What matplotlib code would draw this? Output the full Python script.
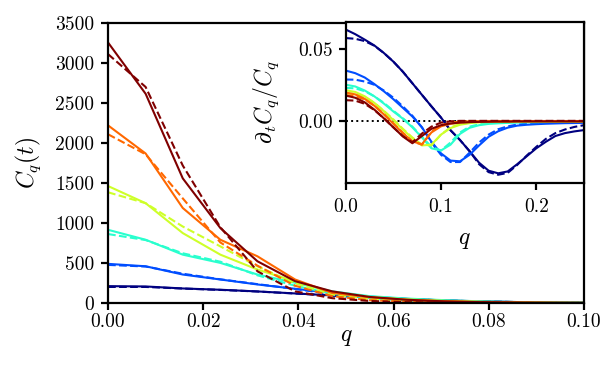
import matplotlib
matplotlib.use("Agg")
import matplotlib.pyplot as plt

plt.rcParams['font.family'] = 'serif'
plt.rcParams['font.serif'] = ['cmr10', 'DejaVu Serif']
plt.rcParams['mathtext.fontset'] = 'cm'
plt.rcParams['axes.formatter.use_mathtext'] = True
plt.rcParams['axes.unicode_minus'] = False

# ---- main panel data ----
q_main = [0.0, 0.0079, 0.0157, 0.0236, 0.0314, 0.0393, 0.0471, 0.0550,
          0.0628, 0.0707, 0.0785, 0.0864, 0.0942, 0.1021]

main_solid_navy = [215, 211, 186, 170, 149, 124, 99, 74, 56, 37, 25, 16, 12, 10]
main_solid_blue = [493, 463, 360, 298, 236, 182, 130, 85, 55, 35, 22, 15, 10, 8]
main_solid_cyan = [918, 794, 608, 505, 360, 257, 150, 90, 60, 40, 25, 16, 10, 8]
main_solid_yellow = [1464, 1250, 877, 608, 422, 273, 140, 80, 50, 32, 20, 13, 9, 7]
main_solid_orange = [2221, 1870, 1190, 794, 587, 298, 130, 75, 45, 28, 17, 11, 8, 6]
main_solid_darkred = [3255, 2615, 1560, 940, 525, 277, 150, 80, 45, 25, 15, 10, 7, 5]

main_dash_navy = [205, 205, 185, 168, 148, 123, 98, 73, 54, 36, 24, 16, 12, 10]
main_dash_blue = [480, 460, 370, 300, 240, 180, 115, 70, 40, 25, 16, 11, 8, 6]
main_dash_cyan = [865, 790, 625, 520, 350, 220, 120, 65, 35, 20, 13, 9, 6, 5]
main_dash_yellow = [1386, 1250, 959, 711, 463, 250, 110, 55, 30, 18, 12, 8, 6, 4]
main_dash_orange = [2110, 1860, 1310, 760, 470, 220, 90, 40, 20, 12, 8, 6, 4, 3]
main_dash_darkred = [3110, 2700, 1720, 950, 400, 150, 65, 30, 15, 10, 7, 5, 4, 3]

# ---- inset data ----
q_inset = [0.00, 0.01, 0.02, 0.03, 0.04, 0.05, 0.06, 0.07, 0.08, 0.09, 0.10,
           0.11, 0.12, 0.13, 0.14, 0.15, 0.16, 0.17, 0.18, 0.19, 0.20,
           0.21, 0.22, 0.23, 0.24, 0.25]

ins_solid_navy = [0.0632, 0.0600, 0.0562, 0.0522, 0.0470, 0.0410, 0.0340, 0.0260, 0.0180, 0.0100, 0.0023,
                  -0.0065, -0.0133, -0.0210, -0.0290, -0.0345, -0.0363, -0.0350, -0.0300, -0.0245, -0.0190,
                  -0.0145, -0.0105, -0.0085, -0.0073, -0.0064]
ins_dash_navy = [0.0573, 0.0568, 0.0552, 0.0520, 0.0470, 0.0410, 0.0340, 0.0260, 0.0180, 0.0100, 0.0023,
                 -0.0065, -0.0133, -0.0210, -0.0300, -0.0355, -0.0373, -0.0360, -0.0305, -0.0240, -0.0180,
                 -0.0125, -0.0085, -0.0060, -0.0042, -0.0030]
ins_solid_blue = [0.0348, 0.0330, 0.0300, 0.0255, 0.0205, 0.0150, 0.0090, 0.0030, -0.0045, -0.0145, -0.0225,
                  -0.0275, -0.0280, -0.0235, -0.0170, -0.0110, -0.0072, -0.0047, -0.0033, -0.0027, -0.0023,
                  -0.0020, -0.0018, -0.0016, -0.0015, -0.0014]
ins_dash_blue = [0.0286, 0.0285, 0.0272, 0.0250, 0.0210, 0.0160, 0.0100, 0.0035, -0.0045, -0.0150, -0.0235,
                 -0.0285, -0.0285, -0.0220, -0.0150, -0.0095, -0.0058, -0.0038, -0.0026, -0.0019, -0.0015,
                 -0.0012, -0.0010, -0.0008, -0.0007, -0.0006]
ins_solid_cyan = [0.0250, 0.0238, 0.0210, 0.0170, 0.0120, 0.0065, 0.0015, -0.0045, -0.0115, -0.0190, -0.0205,
                  -0.0165, -0.0090, -0.0048, -0.0030, -0.0021, -0.0017, -0.0014, -0.0012, -0.0010, -0.0009,
                  -0.0008, -0.0007, -0.0006, -0.0005, -0.0005]
ins_dash_cyan = [0.0228, 0.0225, 0.0205, 0.0170, 0.0125, 0.0070, 0.0018, -0.0040, -0.0110, -0.0180, -0.0205,
                 -0.0150, -0.0080, -0.0040, -0.0024, -0.0016, -0.0012, -0.0010, -0.0008, -0.0007, -0.0006,
                 -0.0005, -0.0004, -0.0004, -0.0003, -0.0003]
ins_solid_yellow = [0.0212, 0.0200, 0.0170, 0.0125, 0.0068, 0.0005, -0.0060, -0.0120, -0.0170, -0.0165, -0.0095,
                    -0.0050, -0.0027, -0.0016, -0.0010, -0.0008, -0.0007, -0.0006, -0.0005, -0.0005, -0.0004,
                    -0.0004, -0.0004, -0.0004, -0.0004, -0.0004]
ins_dash_yellow = [0.0190, 0.0188, 0.0165, 0.0125, 0.0070, 0.0010, -0.0055, -0.0115, -0.0165, -0.0170, -0.0095,
                   -0.0045, -0.0022, -0.0012, -0.0008, -0.0006, -0.0005, -0.0004, -0.0004, -0.0003, -0.0003,
                   -0.0003, -0.0003, -0.0003, -0.0003, -0.0003]
ins_solid_orange = [0.0196, 0.0183, 0.0152, 0.0105, 0.0045, -0.0020, -0.0085, -0.0142, -0.0162, -0.0080, -0.0038,
                    -0.0020, -0.0012, -0.0008, -0.0006, -0.0005, -0.0004, -0.0004, -0.0003, -0.0003, -0.0003,
                    -0.0003, -0.0003, -0.0003, -0.0003, -0.0003]
ins_dash_orange = [0.0177, 0.0172, 0.0148, 0.0105, 0.0048, -0.0018, -0.0083, -0.0142, -0.0165, -0.0075, -0.0030,
                   -0.0012, -0.0006, -0.0003, -0.0002, -0.0001, -0.0001, -0.0001, -0.0001, -0.0001, -0.0001,
                   -0.0001, -0.0001, -0.0001, -0.0001, -0.0001]
ins_solid_darkred = [0.0175, 0.0160, 0.0128, 0.0078, 0.0018, -0.0045, -0.0108, -0.0155, -0.0105, -0.0055, -0.0030,
                     -0.0018, -0.0012, -0.0009, -0.0007, -0.0006, -0.0005, -0.0005, -0.0004, -0.0004, -0.0004,
                     -0.0004, -0.0004, -0.0004, -0.0004, -0.0004]
ins_dash_darkred = [0.0143, 0.0140, 0.0118, 0.0075, 0.0018, -0.0045, -0.0105, -0.0148, -0.0088, -0.0040, -0.0012,
                    -0.0003, 0.0, 0.0, 0.0, 0.0, 0.0, 0.0, 0.0, 0.0, 0.0,
                    0.0, 0.0, 0.0, 0.0, 0.0]

cvals = [0.0, 0.2, 0.4, 0.6, 0.8, 1.0]
main_solid = [main_solid_navy, main_solid_blue, main_solid_cyan, main_solid_yellow, main_solid_orange, main_solid_darkred]
main_dash = [main_dash_navy, main_dash_blue, main_dash_cyan, main_dash_yellow, main_dash_orange, main_dash_darkred]
ins_solid = [ins_solid_navy, ins_solid_blue, ins_solid_cyan, ins_solid_yellow, ins_solid_orange, ins_solid_darkred]
ins_dash = [ins_dash_navy, ins_dash_blue, ins_dash_cyan, ins_dash_yellow, ins_dash_orange, ins_dash_darkred]

cmap = plt.get_cmap('jet')

fig = plt.figure(figsize=(6.07, 3.75), dpi=100)
ax = fig.add_axes([0.178, 0.191, 0.784, 0.748])
lw = 1.5
for c, s, d in zip(cvals, main_solid, main_dash):
    col = cmap(c)
    ax.plot(q_main, s, color=col, lw=lw, ls='-')
    ax.plot(q_main, d, color=col, lw=lw, ls='--')
ax.set_xlim(0, 0.1)
ax.set_ylim(0, 3500)
ax.set_xticks([0.0, 0.02, 0.04, 0.06, 0.08, 0.10])
ax.set_xticklabels(['0.00', '0.02', '0.04', '0.06', '0.08', '0.10'])
ax.set_yticks([0, 500, 1000, 1500, 2000, 2500, 3000, 3500])
ax.set_yticklabels(['0', '500', '1000', '1500', '2000', '2500', '3000', '3500'])
ax.set_xlabel('$q$', fontsize=17)
ax.set_ylabel('$C_q(t)$', fontsize=17)
ax.xaxis.set_label_coords(0.5, -0.08)
ax.yaxis.set_label_coords(-0.137, 0.5)

axi = fig.add_axes([0.5695, 0.5128, 0.3925, 0.4285])
for c, s, d in zip(cvals, ins_solid, ins_dash):
    col = cmap(c)
    axi.plot(q_inset, s, color=col, lw=lw, ls='-')
    axi.plot(q_inset, d, color=col, lw=lw, ls='--')
axi.axhline(0, color='black', ls=':', lw=1.4, zorder=0.5)
axi.set_xlim(0, 0.25)
axi.set_ylim(-0.0428, 0.0684)
axi.set_xticks([0.0, 0.1, 0.2])
axi.set_xticklabels(['0.0', '0.1', '0.2'])
axi.set_yticks([0.0, 0.05])
axi.set_yticklabels(['0.00', '0.05'])
axi.set_xlabel('$q$', fontsize=17)
axi.set_ylabel(r'$\partial_t C_q / C_q$', fontsize=17)
axi.xaxis.set_label_coords(0.5, -0.29)
axi.yaxis.set_label_coords(-0.27, 0.5)

for a in (ax, axi):
    for sp in a.spines.values():
        sp.set_linewidth(1.6)
    a.tick_params(direction='out', length=5, width=1.6, labelsize=14)
ax.tick_params(axis='x', pad=2)
ax.tick_params(axis='y', pad=5)
axi.tick_params(axis='x', pad=6)
axi.tick_params(axis='y', pad=4)

fig.savefig('out.png', dpi=100)
